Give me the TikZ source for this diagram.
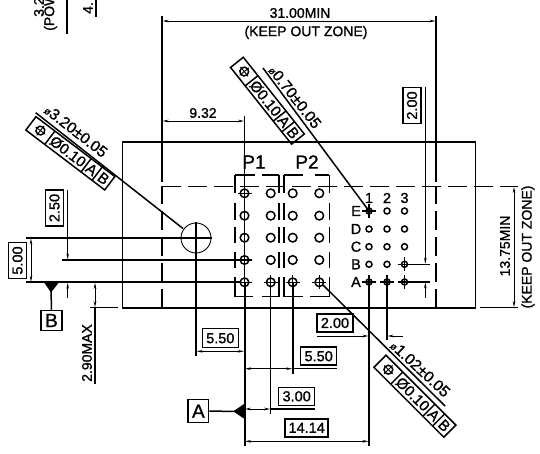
\documentclass[tikz,border=0pt]{standalone}
\usepackage{fontspec}
\setmainfont{Liberation Sans}[FakeBold=1.1]
\usetikzlibrary{arrows.meta}
\newcommand\dimf{\fontsize{14}{15}\selectfont}
\newcommand\valf{\fontsize{14.5}{15}\selectfont}
\newcommand\ldrf{\fontsize{15.5}{16}\selectfont}
\newcommand\frmf{\fontsize{15}{16}\selectfont}
\newcommand\smf{\fontsize{10}{11}\selectfont}
\newcommand\bigf{\fontsize{19}{20}\selectfont}
\tikzset{
  ln/.style={line width=1.5pt},
  thk/.style={line width=2pt},
  thn/.style={line width=0.9pt},
  tipa/.style={-{Stealth[length=6pt,width=2.6pt]}},
  tipb/.style={{Stealth[length=6pt,width=2.6pt]}-{Stealth[length=6pt,width=2.6pt]}},
  txt/.style={inner sep=0pt,font=\dimf},
  ldr/.style={inner sep=0pt,font=\ldrf},
  frm/.style={inner sep=0pt,font=\frmf,transform shape},
  valbox/.style={draw,line width=1.5pt,inner sep=0pt,font=\valf,anchor=center},
  keepout/.style={line width=1.5pt,dash pattern=on 19pt off 7pt},
  pinlab/.style={inner sep=0pt,font=\fontsize{14.5}{15}\selectfont}
}
\newcommand\padc[2]{\draw[ln] (#1,#2) circle (4.3);}
\newcommand\padx[2]{\draw[ln] (#1,#2) circle (4.3); \draw[ln] (#1-7,#2) -- (#1+7,#2) (#1,#2-7) -- (#1,#2+7);}
\newcommand\spadc[2]{\draw[ln] (#1,#2) circle (3);}
\newcommand\spadx[2]{\draw[ln] (#1,#2) circle (3); \draw[ln] (#1-7,#2) -- (#1+7,#2) (#1,#2-7) -- (#1,#2+7);}
\newcommand\fcf[5]{%
\begin{scope}[shift={(#1,#2)},rotate=#3]
  \draw[ln] (0,0) rectangle (#4,#5);
  \draw[ln] (0.24*#4,0) -- (0.24*#4,#5) (0.70*#4,0) -- (0.70*#4,#5) (0.84*#4,0) -- (0.84*#4,#5);
  \draw[ln] (0.12*#4,0.5*#5) circle (4.4);
  \draw[thn] (0.12*#4-6,0.5*#5) -- (0.12*#4+6,0.5*#5) (0.12*#4,0.5*#5-6) -- (0.12*#4,0.5*#5+6);
  \node[frm] at (0.47*#4,0.5*#5) {Ø0.10};
  \node[frm] at (0.77*#4,0.5*#5) {A};
  \node[frm] at (0.92*#4,0.5*#5) {B};
\end{scope}}
\begin{document}
\begin{tikzpicture}[x=1pt,y=-1pt]
\useasboundingbox (0,0) rectangle (540,454);
\begin{scope}
\clip (0,0) rectangle (540,454);
\node[txt,rotate=90,anchor=west] (fa) at (39,17) {3.2};
\node[txt,rotate=90,anchor=west] (fb) at (50.5,31) {(POW};
\node[txt,rotate=90,anchor=west] (fc) at (88,14) {4.};
\end{scope}
\draw[ln] (67,0) -- (67,34);
\draw[ln] (96,0) -- (96,17);
% outline
\draw[ln] (122.5,142) rectangle (475.5,307.7);
\draw[thk] (122,307.7) -- (476,307.7);
\draw[ln] (480,307.7) -- (518,307.7);
\draw[ln] (90,307.7) -- (118,307.7);
% keep out
\draw[keepout] (162,186.5) -- (518,186.5);
\draw[keepout] (162,307.7) -- (162,186.5);
\draw[keepout] (436,307.7) -- (436,186.5);
\draw[ln] (162,16) -- (162,182);
\draw[ln] (436,16) -- (436,182);
\draw[thn,tipb] (162.5,21) -- (435.5,21);
\node[txt] (d31) at (300,13) {31.00MIN};
\node[txt] (k1) at (306,32.5) {(KEEP OUT ZONE)};
% 9.32
\draw[thn,tipb] (162.5,121) -- (244,121);
\node[txt] (d932) at (203,113) {9.32};
\draw[ln] (244.5,116) -- (244.5,282);
\draw[thk] (244.5,282) -- (244.5,446);
% P brackets
\node[pinlab,font=\bigf] (p1) at (254,162) {P1};
\node[pinlab,font=\bigf] (p2) at (307,162) {P2};
\foreach \x in {235,279,284,329.3}{
  \draw[ln] (\x,175) -- (\x,193);
  \draw[ln] (\x,203) -- (\x,220);
  \draw[ln] (\x,227) -- (\x,243);
  \draw[ln] (\x,252) -- (\x,268);
  \draw[ln] (\x,277) -- (\x,296.7);
}
\draw[ln] (235,175) -- (255,175) (262,175) -- (279,175) (284,175) -- (303,175) (315,175) -- (329.3,175);
\draw[ln] (235,296.7) -- (253,296.7) (262,296.7) -- (279,296.7) (284,296.7) -- (303,296.7) (310,296.7) -- (329.3,296.7);
% pads P
\foreach \x in {270.7,292.7,319.3}{\padc{\x}{193.3}\padc{\x}{260}}
\foreach \x in {244.5,270.7,292.7,319.3}{\padc{\x}{215.7}\padc{\x}{237.7}}
\padx{244.5}{193.3}
\padx{244.5}{260}
\foreach \x in {244.5,270.7,292.7,319.3}{\padx{\x}{282.3}}
% right grid
\foreach \y in {229,246.7}{\foreach \x in {369,387,404.5}{\spadc{\x}{\y}}}
\spadc{387}{211}\spadc{404.5}{211}
\spadc{369}{264.3}\spadc{387}{264.3}
\spadx{369}{211}
\spadx{404.5}{264.3}
\foreach \x in {369,387,404.5}{\spadx{\x}{282}}
\foreach \l/\y in {E/211,D/229,C/246.7,B/264.3,A/282}{\node[pinlab] (r\l) at (356,\y) {\l};}
\foreach \n/\x in {1/369,2/387,3/404.5}{\node[pinlab] (c\n) at (\x,198) {\n};}
% big circle
\draw[thn] (196,238) circle (15);
\draw[ln] (26,238) -- (212,238);
\draw[ln] (196,222) -- (196,356);
% left horizontals
\draw[ln] (62,260) -- (240,260);
\draw[thk] (26,282.3) -- (240,282.3);
% 2.50
\node[valbox,rotate=90,minimum width=36pt,minimum height=18pt] (b250) at (54.5,208) {2.50};
\draw[thn,tipa] (67.7,190) -- (67.7,259.5);
\draw[thn,tipa] (67.7,298) -- (67.7,282.8);
% 5.00
\node[valbox,rotate=90,minimum width=36pt,minimum height=18pt] (b500) at (17.5,260.5) {5.00};
\draw[thn,tipb] (31,238.5) -- (31,281.8);
% datum B
\fill (44,282.3) -- (59,282.3) -- (51,292.5) -- cycle;
\node[valbox,font=\fontsize{19}{20}\selectfont,minimum width=21pt,minimum height=20pt] (db) at (51.5,320.5) {B};
\draw[ln] (51,290) -- (db.north);
% 2.90MAX
\draw[thn,tipb] (95,282.8) -- (95,307.2);
\draw[ln] (95,307.7) -- (95,384);
\node[txt,rotate=90] (d290) at (87,353) {2.90MAX};
% 13.75
\draw[thn,tipb] (514,187) -- (514,307.2);
\node[txt,rotate=90] (d1375) at (505,246) {13.75MIN};
\node[txt,rotate=90] (k2) at (528,247) {(KEEP OUT ZONE)};
% 2.00 right
\node[valbox,rotate=90,minimum width=36pt,minimum height=18pt] (b200r) at (412,105.5) {2.00};
\draw[thn,tipa] (425.3,87) -- (425.3,263.8);
\draw[thn,tipa] (425.3,298) -- (425.3,282.5);
\draw[ln] (404.5,264.3) -- (430,264.3);
\draw[ln] (404.5,282) -- (430,282);
% drop lines
\draw[ln] (369,282) -- (369,446);
\draw[thk] (387,282) -- (387,340);
\draw[ln] (270.7,282) -- (270.7,413.7);
\draw[thk] (292.7,282) -- (292.7,373.7);
% 2.00 lower
\node[valbox,minimum width=36pt,minimum height=18pt] (b200) at (335,323) {2.00};
\draw[thn,tipa] (317,336) -- (368.5,336);
\draw[thn,tipa] (403,336) -- (387.5,336);
% 5.50 left
\node[valbox,minimum width=36pt,minimum height=19pt] (b550a) at (220.3,338.2) {5.50};
\draw[thn,tipb] (196.5,351.3) -- (244,351.3);
% 5.50 right
\node[valbox,minimum width=36pt,minimum height=18pt] (b550b) at (318.7,356.2) {5.50};
\draw[thn,tipb] (245,368.7) -- (292.2,368.7);
\draw[thn] (292.7,368.7) -- (336.7,368.7);
% 3.00
\node[valbox,minimum width=36pt,minimum height=18pt] (b300) at (296.7,396.3) {3.00};
\draw[thn,tipb] (245,409) -- (270.2,409);
\draw[ln] (270.7,409) -- (315,409);
% 14.14
\node[valbox,minimum width=43pt,minimum height=18pt] (b1414) at (306.7,427.8) {14.14};
\draw[thn,tipb] (245,441.3) -- (368.5,441.3);
% datum A
\fill (244.5,403.7) -- (244.5,419) -- (233.3,411.3) -- cycle;
\node[valbox,font=\fontsize{19}{20}\selectfont,minimum width=20.5pt,minimum height=23pt] (da) at (198.4,411.2) {A};
\draw[ln] (da.east) -- (236,411.3);
% frame 1 and leader
\draw[ln] (35.7,112.7) -- (183,228.5);
\fcf{36}{116.7}{-37.2}{99}{16.8}
\node[ldr,rotate=-38] (l1) at (76,131) {{\smf ø}3.20±0.05};
% frame 2 and leader
\draw[ln] (263,68) -- (369,211);
\fcf{243.3}{57.3}{-51.5}{98}{16.3}
\node[ldr,rotate=-52] (l2) at (295,97) {{\smf ø}0.70±0.05};
% frame 3 and leader
\draw[ln] (323,285) -- (445,406);
\fcf{386}{355.3}{-45}{98.8}{17}
\node[ldr,rotate=-43] (l3) at (420.3,368.7) {{\smf ø}1.02±0.05};
\end{tikzpicture}
\end{document}
